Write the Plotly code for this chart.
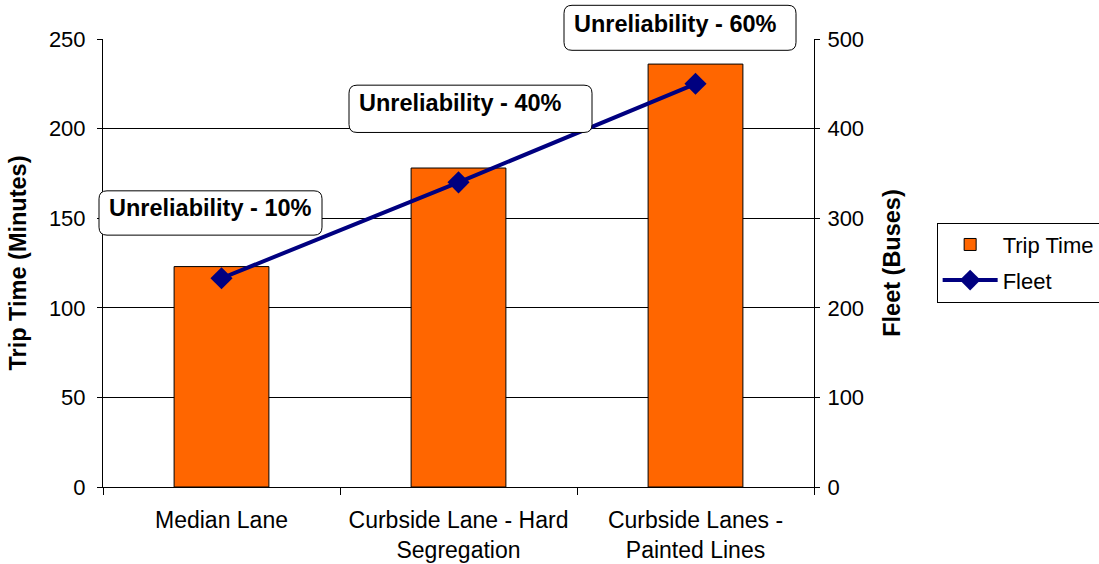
import plotly.graph_objects as go

# Lane configurations compared
categories = ["Median Lane", "Curbside Lane - Hard<br>Segregation", "Curbside Lanes -<br>Painted Lines"]
trip_time = [123, 178, 236]      # minutes
fleet = [233, 340, 450]          # buses
unreliability = ["Unreliability - 10%", "Unreliability - 40%", "Unreliability - 60%"]

TRIP_MAX = 250
FLEET_MAX = 500

# Callout geometry, in pixels relative to each fleet point: box (left, right, bottom, top), text (dx, dy)
callout_boxes = [(-122.5, 100.5, 43.1, 87.4), (-109.5, 133.5, 49.9, 97.2), (-131.5, 100.5, 33.5, 78.5)]
callout_text = [(-11, 70), (2, 79.5), (-20, 60)]

FONT = "Liberation Sans, Arial, sans-serif"


def rounded_rect(x0, x1, y0, y1, r=8):
    return (f"M {x0 + r},{y0} L {x1 - r},{y0} Q {x1},{y0} {x1},{y0 + r} "
            f"L {x1},{y1 - r} Q {x1},{y1} {x1 - r},{y1} L {x0 + r},{y1} "
            f"Q {x0},{y1} {x0},{y1 - r} L {x0},{y0 + r} Q {x0},{y0} {x0 + r},{y0} Z")


fig = go.Figure()
fig.add_trace(go.Bar(
    x=categories, y=trip_time, name="Trip Time", width=0.4,
    marker=dict(color="#FF6600", line=dict(color="#000000", width=1)),
    legendgroup="a",
))
fig.add_trace(go.Scatter(
    x=categories, y=fleet, name="Fleet", yaxis="y2", mode="lines+markers",
    line=dict(color="#000080", width=4),
    marker=dict(symbol="diamond", size=17, color="#000080"),
    legendgroup="b",
))

# Callout boxes are anchored in paper space (so they may extend past the plot area)
n = len(categories)
shapes = []
annotations = []
for i, (cat, val, label, box, txt) in enumerate(zip(categories, fleet, unreliability, callout_boxes, callout_text)):
    x0, x1, y0, y1 = box
    shapes.append(dict(
        type="path", xref="paper", yref="paper", xsizemode="pixel", ysizemode="pixel",
        xanchor=(i + 0.5) / n, yanchor=val / FLEET_MAX, path=rounded_rect(x0, x1, y0, y1),
        fillcolor="#FFFFFF", line=dict(color="#000000", width=1), layer="above",
    ))
    annotations.append(dict(
        x=cat, y=val, xref="x", yref="y2", text=f"<b>{label}</b>", showarrow=False,
        xshift=txt[0], yshift=txt[1], font=dict(family=FONT, size=23.5, color="#000000"),
    ))

tick_font = dict(family=FONT, size=22, color="#000000")
cat_font = dict(family=FONT, size=23, color="#000000")
title_font = dict(family=FONT, size=23.5, color="#000000")

fig.update_layout(
    width=1099, height=564,
    margin=dict(l=103, r=285, t=39, b=77, autoexpand=False),
    paper_bgcolor="#FFFFFF", plot_bgcolor="#FFFFFF",
    font=tick_font,
    bargap=0.6,
    showlegend=True,
    legend=dict(
        x=1.1725, y=0.59, xanchor="left", yanchor="top",
        bordercolor="#000000", borderwidth=1, bgcolor="#FFFFFF",
        font=dict(family=FONT, size=22, color="#000000"),
        itemwidth=55, tracegroupgap=4, traceorder="grouped",
    ),
    xaxis=dict(
        type="category", tickson="boundaries", ticks="outside", ticklen=7,
        tickcolor="#000000", showline=True, linecolor="#000000", linewidth=1,
        showgrid=False, tickfont=cat_font, automargin=False, ticklabelstandoff=12,
    ),
    yaxis=dict(
        range=[0, TRIP_MAX], dtick=50, ticks="outside", ticklen=5, tickcolor="#000000",
        showline=True, linecolor="#000000", linewidth=1,
        showgrid=True, gridcolor="#000000", gridwidth=1, zeroline=False,
        tickfont=tick_font, automargin=False, ticklabelstandoff=7,
        title=dict(text="<b>Trip Time (Minutes)</b>", font=title_font, standoff=15),
    ),
    yaxis2=dict(
        range=[0, FLEET_MAX], dtick=100, overlaying="y", side="right",
        ticks="outside", ticklen=5, tickcolor="#000000",
        showline=True, linecolor="#000000", linewidth=1,
        showgrid=False, zeroline=False, tickfont=tick_font, automargin=False,
        ticklabelstandoff=3,
        title=dict(text="<b>Fleet (Buses)</b>", font=title_font, standoff=20),
    ),
    shapes=shapes,
    annotations=annotations,
)

fig.write_html("out.html")
